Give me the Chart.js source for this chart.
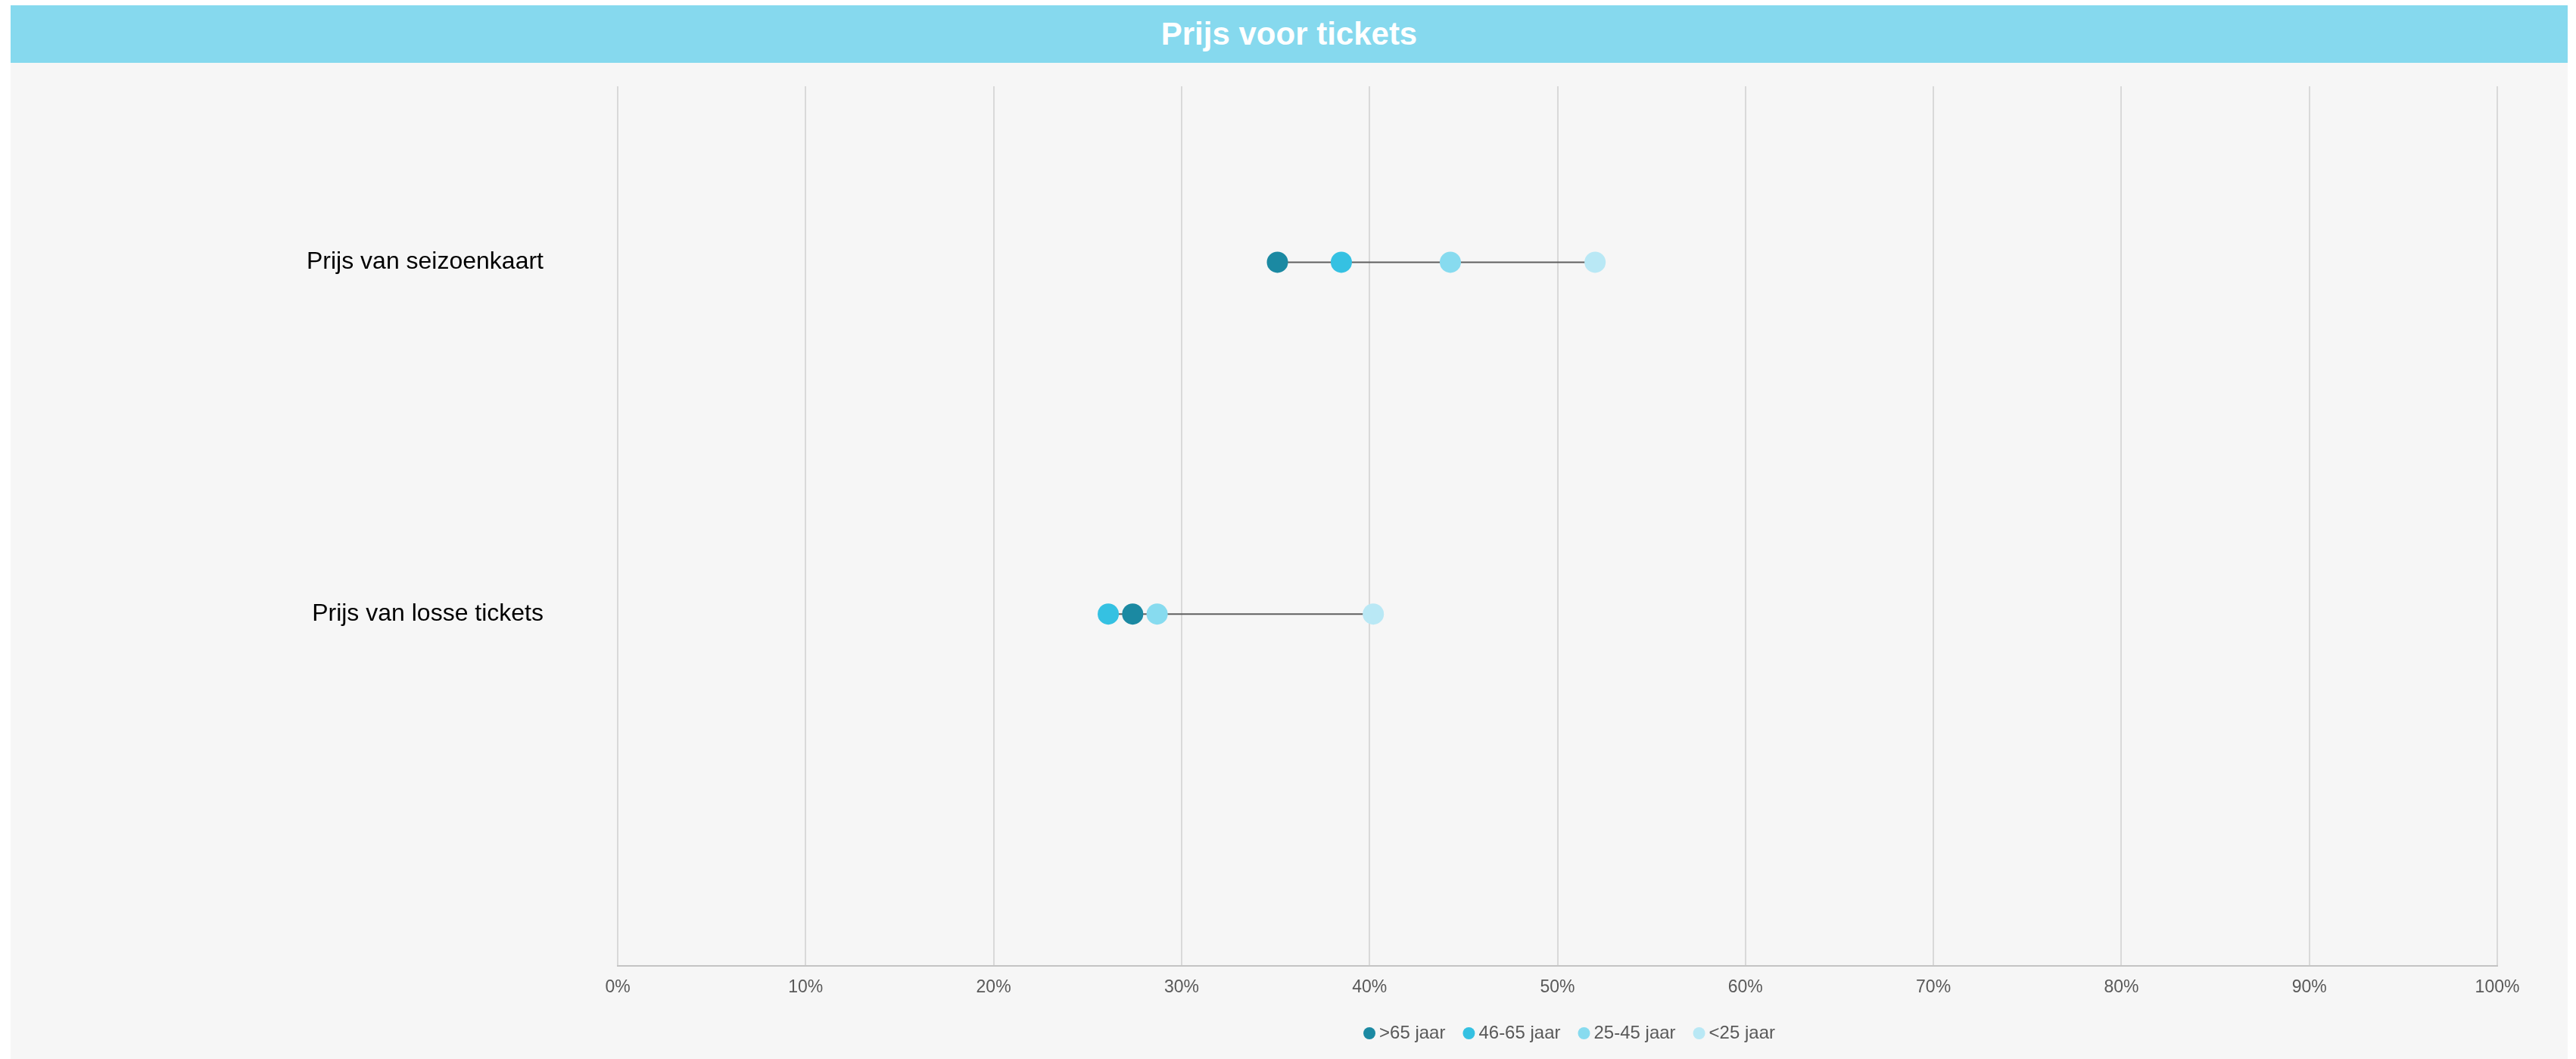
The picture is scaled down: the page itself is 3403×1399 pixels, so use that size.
<!DOCTYPE html>
<html lang="nl">
<head>
<meta charset="utf-8">
<title>Prijs voor tickets</title>
<script src="https://cdn.jsdelivr.net/npm/chart.js@4.4.1/dist/chart.umd.min.js"></script>
<style>
  html, body { margin: 0; padding: 0; background: #ffffff; }
  body { width: 3403px; height: 1399px; position: relative; overflow: hidden; font-family: "Liberation Sans", Arial, sans-serif; }
  .chart-card { position: absolute; left: 14px; top: 7px; width: 3378px; height: 1392px; background: #f6f6f6; }
  .chart-title { height: 76px; line-height: 76px; background: #86d9ee; color: #ffffff; font-weight: bold; font-size: 42px; text-align: center; }
  .chart-body { position: relative; width: 3378px; height: 1316px; }
</style>
</head>
<body>
<div class="chart-card">
  <div class="chart-title">Prijs voor tickets</div>
  <div class="chart-body"><canvas id="tickets-chart"></canvas></div>
</div>
<script>
// Data (percentages)
const categories = ['Prijs van seizoenkaart', 'Prijs van losse tickets'];
const ageGroups = ['>65 jaar', '46-65 jaar', '25-45 jaar', '<25 jaar'];
const over65 = [35.1, 27.4];
const age46to65 = [38.5, 26.1];
const age25to45 = [44.3, 28.7];
const under25 = [52.0, 40.2];
const percentTicks = [0, 10, 20, 30, 40, 50, 60, 70, 80, 90, 100];

const groupSeries = [over65, age46to65, age25to45, under25];
const groupColors = ['#1b89a2', '#35c1e2', '#87dbef', '#b9e8f5'];

// each category sits on its own row of a 0..5 linear axis
function rowY(i) {
  return 1 + 2 * i;
}

document.addEventListener('DOMContentLoaded', function() {
  Chart.defaults.font.family = '"Liberation Sans", Arial, sans-serif';

  const pointSets = ageGroups.map((label, g) => ({
    label: label,
    data: groupSeries[g].map((v, i) => ({ x: v, y: rowY(i) })),
    backgroundColor: groupColors[g],
    borderColor: groupColors[g],
    borderWidth: 0,
    pointStyle: 'circle',
    pointRadius: 14,
    pointHoverRadius: 14,
    pointBorderWidth: 0,
    order: 0
  }));

  // grey line from lowest to highest value of each category
  const rangeSets = categories.map((cat, i) => {
    const vals = groupSeries.map(s => s[i]);
    return {
      label: cat,
      data: [
        { x: Math.min(...vals), y: rowY(i) },
        { x: Math.max(...vals), y: rowY(i) }
      ],
      showLine: true,
      borderColor: '#5f5f5f',
      borderWidth: 2,
      pointRadius: 0,
      pointHoverRadius: 0,
      order: 1
    };
  });

  // move the legend so it sits under the plot area
  const legendShift = {
    id: 'legendShift',
    afterLayout(chart) {
      const legend = chart.legend;
      const area = chart.chartArea;
      if (!legend || !area) return;
      legend.left = area.left + 19;
      legend.right = area.right + 19;
      legend.width = legend.right - legend.left;
    }
  };

  const ctx = document.getElementById('tickets-chart').getContext('2d');

  new Chart(ctx, {
    type: 'scatter',
    data: { datasets: pointSets.concat(rangeSets) },
    plugins: [legendShift],
    options: {
      responsive: true,
      maintainAspectRatio: false,
      animation: false,
      layout: { padding: { top: 31, right: 93, bottom: 12, left: 0 } },
      scales: {
        x: {
          type: 'linear',
          min: 0,
          max: 100,
          afterBuildTicks: function(scale) {
            scale.ticks = percentTicks.map(v => ({ value: v }));
          },
          afterFit: function(scale) {
            scale.height = 47;
          },
          grid: { color: '#d9d9d9', lineWidth: 2, drawTicks: false },
          border: { color: '#c4c4c4', width: 2 },
          ticks: {
            padding: 15,
            color: '#595959',
            font: { size: 23 },
            callback: function(value) {
              return value + '%';
            }
          }
        },
        y: {
          type: 'linear',
          min: 0,
          max: 5,
          reverse: true,
          afterBuildTicks: function(scale) {
            scale.ticks = categories.map((c, i) => ({ value: rowY(i) }));
          },
          afterFit: function(scale) {
            // fixed label column; the wide label gap must not push the plot down
            scale.width = 802;
            scale.paddingTop = 0;
            scale.paddingBottom = 0;
          },
          grid: { display: false, drawTicks: false },
          border: { display: false },
          ticks: {
            padding: 98,
            color: '#000000',
            font: { size: 32 },
            callback: function(value, index) {
              return categories[index];
            }
          }
        }
      },
      plugins: {
        title: { display: false },
        tooltip: { enabled: false },
        legend: {
          position: 'bottom',
          labels: {
            usePointStyle: true,
            pointStyle: 'circle',
            boxWidth: 2,
            boxHeight: 11.3,
            padding: 30,
            color: '#595959',
            font: { size: 24 },
            filter: function(item) {
              return item.datasetIndex < ageGroups.length;
            }
          }
        }
      }
    }
  });
});
</script>
</body>
</html>
